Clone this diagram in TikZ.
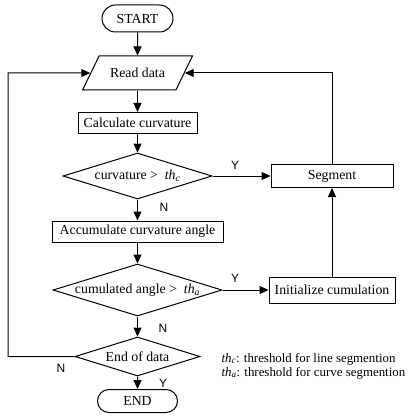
\documentclass[tikz,border=0pt]{standalone}
\usepackage{fontspec}
\setmainfont{Liberation Serif}
\newfontfamily\yesnofont{Liberation Sans}
\usetikzlibrary{shapes.geometric,shapes.misc,arrows.meta}

\begin{document}
\begin{tikzpicture}[x=1pt, y=-1pt, line width=1pt,
    every node/.append style={font=\fontsize{13.8}{16}\selectfont},
    terminal/.style={shape=rounded rectangle, draw, minimum width=71pt, minimum height=27pt, inner sep=0pt},
    io/.style={shape=trapezium, trapezium left angle=64, trapezium right angle=116, draw, text height=10pt, text depth=0pt, inner xsep=11pt, inner ysep=12pt},
    process/.style={shape=rectangle, draw, minimum height=21pt, inner sep=0pt},
    decision/.style={shape=diamond, draw, inner sep=0pt},
    flow/.style={-{Triangle[length=9pt, width=8pt]}},
    yesno/.style={font=\yesnofont\fontsize{12}{14}\selectfont}]
  \useasboundingbox (0, 0) rectangle (415, 417);
  \node (start) at (137.5, 18.5) [terminal] {START};
  \node (read) at (137.5, 73) [io] {Read data};
  \node (calc) at (137.5, 123) [process, minimum width=119pt] {Calculate curvature};
  \node (curv) at (137.5, 176) [decision, minimum width=149pt, minimum height=46pt, aspect=3.24] {curvature >\ \ \textit{th\textsubscript{c}}};
  \node (segment) at (332, 176) [process, minimum width=122pt, minimum height=23pt] {Segment};
  \node (accum) at (137.5, 231.5) [process, minimum width=171pt] {Accumulate curvature angle};
  \node (angle) at (137.5, 290) [decision, minimum width=169pt, minimum height=52pt, aspect=3.25] {cumulated angle >\ \ \textit{th\textsubscript{a}}};
  \node (init) at (332, 290) [process, minimum width=126pt, minimum height=26pt] {Initialize cumulation};
  \node (eod) at (137.5, 356.5) [decision, minimum width=125pt, minimum height=39pt, aspect=3.2] {End of data};
  \node (end) at (137.5, 401) [terminal, minimum width=80pt, minimum height=23pt] {END};
  \node (legend) at (221, 366) [anchor=west, inner sep=0pt, align=left, font=\fontsize{12.9}{14}\selectfont] {\textit{th\textsubscript{c}}: threshold for line segmention\\\textit{th\textsubscript{a}}: threshold for curve segmention};
  \node (y1) at (235, 165) [yesno] {Y};
  \node (n1) at (164, 207) [yesno] {N};
  \node (y2) at (235, 278) [yesno] {Y};
  \node (n2) at (163, 328) [yesno] {N};
  \node (n3) at (61, 368) [yesno] {N};
  \node (y3) at (163, 383) [yesno] {Y};
  \coordinate (back) at (8, 73);
  \draw [flow] (start) -- (read);
  \draw [flow] (read) -- (calc);
  \draw [flow] (calc) -- (curv);
  \draw [flow] (curv) -- (segment);
  \draw [flow] (curv) -- (accum);
  \draw [flow] (accum) -- (angle);
  \draw [flow] (angle) -- (init);
  \draw [flow] (init) -- (segment);
  \draw [flow] (segment) |- (read);
  \draw [flow] (angle) -- (eod);
  \draw [flow] (eod) -- (end);
  \draw [flow] (eod) -| (back) -- (read);
\end{tikzpicture}
\end{document}
